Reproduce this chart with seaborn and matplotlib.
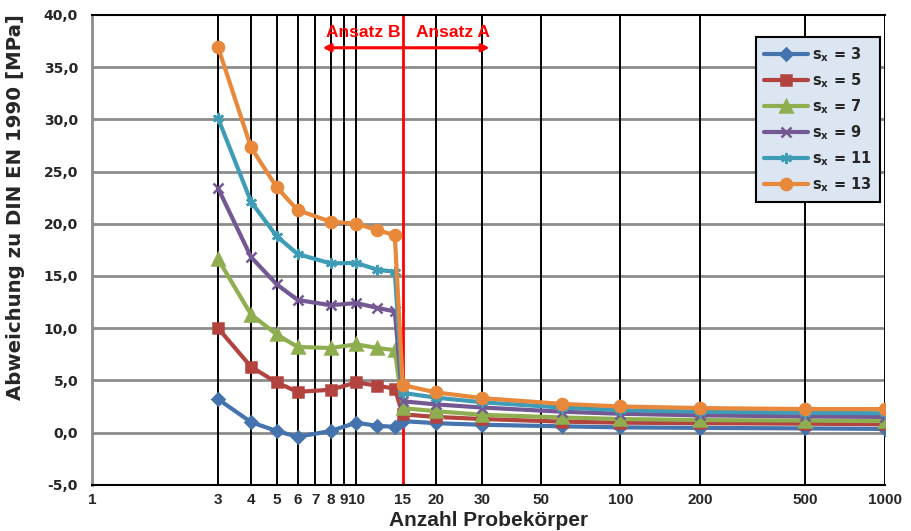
import numpy as np
import pandas as pd
import matplotlib
matplotlib.use("Agg")
import matplotlib.pyplot as plt
from matplotlib.ticker import FixedLocator, FuncFormatter, NullLocator
import seaborn as sns

# sample sizes (Anzahl Probekoerper)
n_pk = [3, 4, 5, 6, 8, 10, 12, 14, 15, 20, 30, 60, 100, 200, 500, 1000]

# deviation to DIN EN 1990 [MPa] for each s_x
sx3 = [3.2, 1.0, 0.15, -0.4, 0.15, 0.95, 0.65, 0.55, 1.1, 0.9, 0.75, 0.6, 0.5, 0.45, 0.4, 0.35]
sx5 = [10.0, 6.3, 4.8, 3.9, 4.1, 4.8, 4.5, 4.2, 1.75, 1.5, 1.3, 1.05, 0.95, 0.9, 0.85, 0.8]
sx7 = [16.6, 11.3, 9.4, 8.2, 8.1, 8.45, 8.1, 7.9, 2.35, 2.05, 1.7, 1.45, 1.3, 1.2, 1.15, 1.1]
sx9 = [23.4, 16.8, 14.2, 12.7, 12.2, 12.4, 11.95, 11.6, 3.0, 2.7, 2.4, 2.0, 1.8, 1.65, 1.55, 1.5]
sx11 = [30.1, 22.1, 18.8, 17.1, 16.2, 16.25, 15.6, 15.4, 3.8, 3.35, 2.9, 2.4, 2.15, 2.0, 1.9, 1.85]
sx13 = [36.9, 27.3, 23.5, 21.3, 20.2, 20.0, 19.4, 18.9, 4.55, 3.85, 3.3, 2.75, 2.5, 2.35, 2.25, 2.25]

labels = ["s$_x$ = 3", "s$_x$ = 5", "s$_x$ = 7", "s$_x$ = 9", "s$_x$ = 11", "s$_x$ = 13"]
series = [sx3, sx5, sx7, sx9, sx11, sx13]

xticks = [1, 3, 4, 5, 6, 7, 8, 9, 10, 15, 20, 30, 50, 100, 200, 500, 1000]
vlines = [3, 4, 5, 6, 7, 8, 9, 10, 20, 30, 50, 100, 200, 500, 1000]
yticks = np.arange(-5, 41, 5)

colors = ["#4473AE", "#B2433F", "#8EAE4F", "#735894", "#3F9CB6", "#E8883A"]
markers = ["D", "s", "^", "x", (6, 2, 0), "o"]
msizes = [6.5, 7, 8, 7, 8, 8]

sns.set_style("white")
plt.rcParams["font.family"] = ["DejaVu Sans"]
plt.rcParams["mathtext.default"] = "bf"

fig, ax = plt.subplots(figsize=(9.11, 5.31), dpi=100)
fig.subplots_adjust(left=0.101, right=0.971, top=0.972, bottom=0.087)

# grid first so the lines sit on top
for v in yticks[:-1]:
    ax.axhline(v, color="#8C8C8C", lw=2, zorder=1)
for v in vlines:
    ax.axvline(v, color="black", lw=1.4, zorder=1)
ax.axvline(15, color="#FF0000", lw=2, zorder=2)

handles = []
for lab, ys, c, m, ms in zip(labels, series, colors, markers, msizes):
    sns.lineplot(x=n_pk, y=ys, color=c, marker=m, markersize=ms, lw=3,
                 sort=False, estimator=None, ax=ax, zorder=3,
                 markeredgecolor=c, markeredgewidth=1.8)
    handles.append(ax.lines[-1])

ax.set_xscale("log")
ax.set_xlim(1, 1000)
ax.set_ylim(-5, 40)
ax.xaxis.set_major_locator(FixedLocator(xticks))
ax.xaxis.set_minor_locator(NullLocator())
ax.xaxis.set_major_formatter(FuncFormatter(lambda v, p: "%d" % v))
ax.set_yticks(yticks)
ax.yaxis.set_major_formatter(FuncFormatter(lambda v, p: ("%.1f" % v).replace(".", ",")))
ax.tick_params(axis="x", length=0, pad=6, labelsize=11, labelfontfamily="Liberation Sans")
ax.tick_params(axis="y", length=0, labelsize=10, pad=10)
plt.setp(ax.get_xticklabels() + ax.get_yticklabels(), fontweight="bold")

ax.spines["right"].set_visible(False)
ax.spines["top"].set_color("black")
ax.spines["top"].set_linewidth(1.5)
ax.spines["left"].set_color("#8C8C8C")
ax.spines["left"].set_linewidth(2)
ax.spines["bottom"].set_color("black")
ax.spines["bottom"].set_linewidth(1.5)

ax.set_xlabel("Anzahl Probekörper", fontsize=15, fontweight="bold",
              family="Liberation Sans", labelpad=3)
ax.set_ylabel("Abweichung zu DIN EN 1990 [MPa]", fontsize=14.2, fontweight="bold")
ax.yaxis.set_label_coords(-0.085, 0.59)

# Ansatz annotations
ax.annotate("", xy=(7.46, 36.85), xytext=(32, 36.85),
            arrowprops=dict(arrowstyle="<|-|>", color="#FF0000", lw=2.2, mutation_scale=11,
                            shrinkA=0, shrinkB=0),
            zorder=4)
ax.text(10.65, 38.3, "Ansatz B", color="#FF0000", fontsize=12.5, fontweight="bold",
        ha="center", va="center", family="Liberation Sans")
ax.text(23.3, 38.3, "Ansatz A", color="#FF0000", fontsize=12.5, fontweight="bold",
        ha="center", va="center", family="Liberation Sans")

leg = ax.legend(handles=handles, labels=labels, loc="upper right",
                bbox_to_anchor=(0.994, 0.953), borderaxespad=0, frameon=True,
                fancybox=False, prop={"weight": "bold", "size": 10.5},
                handlelength=3.0, handletextpad=0.3, labelspacing=0.5,
                borderpad=0.55)
leg.get_frame().set_facecolor("#DCE6F2")
leg.get_frame().set_edgecolor("black")
leg.get_frame().set_linewidth(1.5)
leg.get_frame().set_alpha(1)

plt.savefig("out.png", dpi=100)
